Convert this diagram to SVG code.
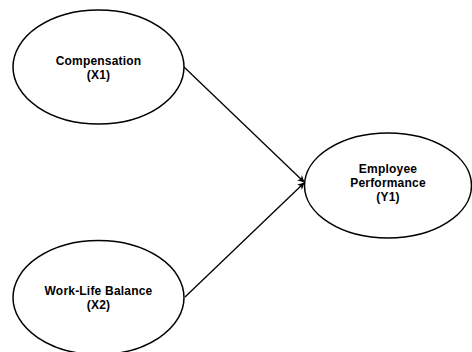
<svg xmlns="http://www.w3.org/2000/svg" width="472" height="352" viewBox="0 0 472 352">
<style>
.n{fill:#fff;stroke:#000;stroke-width:1.5}
.t{font-family:"Liberation Sans",Arial,sans-serif;font-weight:bold;font-size:12px;letter-spacing:0.2px;fill:#000;text-anchor:middle}
.c{stroke:#000;stroke-width:1.3;fill:none;marker-end:url(#ah)}
</style>
<defs>
<marker id="ah" viewBox="0 0 10 10" refX="9" refY="5" markerWidth="7" markerHeight="7" markerUnits="userSpaceOnUse" orient="auto">
<path d="M0,0 L10,5 L0,10 L3,5 z" fill="#000"/>
</marker>
</defs>
<rect width="472" height="352" fill="#fff"/>
<g id="connectors">
<line class="c" x1="184" y1="67" x2="304" y2="182"/>
<line class="c" x1="185" y1="297" x2="304" y2="183"/>
</g>
<g id="x1">
<ellipse class="n" cx="98.5" cy="67" rx="85.5" ry="57"/>
<text class="t" x="98.5" y="65">Compensation</text>
<text class="t" x="98.5" y="79">(X1)</text>
</g>
<g id="x2">
<ellipse class="n" cx="98.5" cy="297.5" rx="85.5" ry="57"/>
<text class="t" x="98.5" y="295">Work-Life Balance</text>
<text class="t" x="98.5" y="309">(X2)</text>
</g>
<g id="y1">
<ellipse class="n" cx="388" cy="185.5" rx="83.5" ry="52.5"/>
<text class="t" x="388" y="173">Employee</text>
<text class="t" x="388" y="187">Performance</text>
<text class="t" x="388" y="200.5">(Y1)</text>
</g>
</svg>
